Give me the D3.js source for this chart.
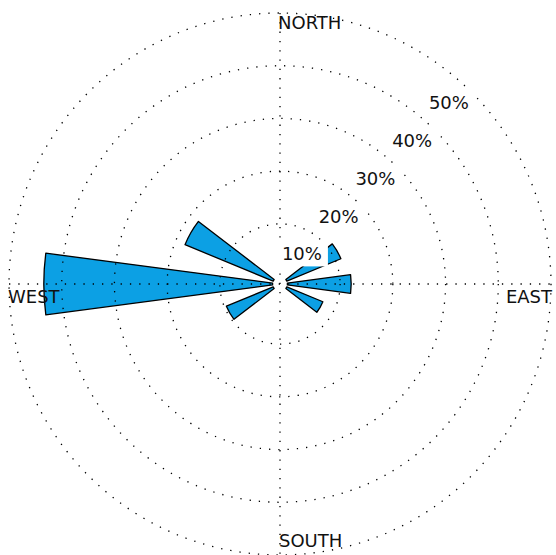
<!DOCTYPE html>
<html>
<head>
<meta charset="utf-8">
<script src="https://cdn.jsdelivr.net/npm/d3@7"></script>
<style>
  body { margin: 0; background: #fff; }
  text { font-family: "DejaVu Sans", sans-serif; font-size: 18px; fill: #111; }
</style>
</head>
<body>
<div id="rose"></div>
<script>
// wind direction (degrees from north) and frequency (%)
const directions = [60, 90, 120, 240, 270, 300];
const frequency = [11.1, 12.1, 7.4, 9.6, 43.4, 18.1];
const ringValues = [10, 20, 30, 40, 50];
const ringLabels = ['10%', '20%', '30%', '40%', '50%'];
const compass = ['NORTH', 'EAST', 'SOUTH', 'WEST'];

const width = 556, height = 555;
const cx = 280, cy = 284;
const sector = 15;

const r = d3.scaleLinear().domain([0, 50]).range([7.4, 271]);
const rad = d => d * Math.PI / 180;

const svg = d3.select('#rose')
  .append('svg')
  .attr('width', width)
  .attr('height', height)
  .append('g')
  .attr('transform', `translate(${cx},${cy})`);

const arc = d3.arc()
  .innerRadius(r(0))
  .outerRadius(d => r(d.f))
  .startAngle(d => rad(d.dir - sector / 2))
  .endAngle(d => rad(d.dir + sector / 2));

svg.selectAll('path.wedge')
  .data(directions.map((dir, i) => ({dir, f: frequency[i]})))
  .enter()
  .append('path')
  .attr('class', 'wedge')
  .attr('d', arc)
  .attr('fill', '#0ca0e4')
  .attr('stroke', '#000')
  .attr('stroke-width', 1.3)
  .attr('stroke-linejoin', 'round');

// dotted grid on top of the wedges
const R = r(50);
svg.selectAll('circle.ring')
  .data(ringValues)
  .enter()
  .append('circle')
  .attr('class', 'ring')
  .attr('r', d => r(d))
  .attr('fill', 'none')
  .attr('stroke', '#000')
  .attr('stroke-width', 1.3)
  .attr('stroke-dasharray', '1.3 8');

svg.append('line')
  .attr('x1', -R).attr('x2', R).attr('y1', 0).attr('y2', 0)
  .attr('stroke', '#000').attr('stroke-width', 1.3).attr('stroke-dasharray', '1.3 8');
svg.append('line')
  .attr('x1', 0).attr('x2', 0).attr('y1', -R).attr('y2', R)
  .attr('stroke', '#000').attr('stroke-width', 1.3).attr('stroke-dasharray', '1.3 8');

// percent labels with white boxes
const la = rad(45.8);
const lab = svg.selectAll('g.lab')
  .data(ringValues)
  .enter()
  .append('g')
  .attr('class', 'lab')
  .attr('transform', d => `translate(${r(d) * Math.cos(la)},${-r(d) * Math.sin(la) + 19.5})`);

lab.append('rect')
  .attr('x', -43).attr('y', -19)
  .attr('width', 49).attr('height', 25)
  .attr('fill', '#fff');

lab.append('text')
  .attr('text-anchor', 'end')
  .text((d, i) => ringLabels[i]);

// compass labels
svg.append('text').attr('x', -2).attr('y', -R + 16).text(compass[0]);
svg.append('text').attr('x', R + 1).attr('y', 19).attr('text-anchor', 'end').text(compass[1]);
svg.append('text').attr('x', -1).attr('y', R - 8).text(compass[2]);
svg.append('text').attr('x', -R - 1).attr('y', 19).text(compass[3]);
</script>
</body>
</html>
